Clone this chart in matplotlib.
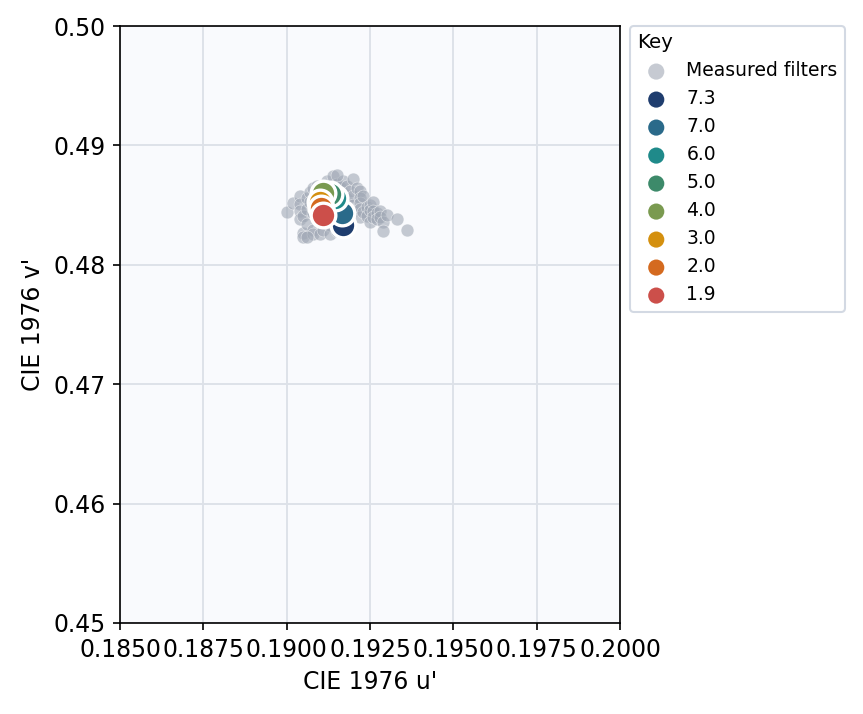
import matplotlib
matplotlib.use("Agg")
import matplotlib.pyplot as plt

# Measured filters (gray cloud)
measured_u = [
    0.1900, 0.1902, 0.1904, 0.1904, 0.1904, 0.1904, 0.1905, 0.1905, 0.1905, 0.1906,
    0.1906, 0.1906, 0.1907, 0.1907, 0.1908, 0.1908, 0.1908, 0.1908, 0.1909, 0.1910,
    0.1910, 0.1910, 0.1911, 0.1912, 0.1912, 0.1913, 0.1913, 0.1913, 0.1914, 0.1914,
    0.1915, 0.1915, 0.1915, 0.1916, 0.1917, 0.1917, 0.1918, 0.1918, 0.1918, 0.1918,
    0.1919, 0.1920, 0.1920, 0.1920, 0.1920, 0.1921, 0.1922, 0.1922, 0.1922, 0.1922,
    0.1922, 0.1923, 0.1923, 0.1924, 0.1924, 0.1925, 0.1925, 0.1925, 0.1926, 0.1926,
    0.1926, 0.1927, 0.1927, 0.1928, 0.1928, 0.1929, 0.1930, 0.1929, 0.1933, 0.1936,
    0.1915, 0.1906, 0.1908, 0.1911, 0.1914, 0.1916, 0.1912, 0.1909,
]
measured_v = [
    0.4844, 0.4852, 0.4858, 0.4851, 0.4845, 0.4838, 0.4841, 0.4827, 0.4823, 0.4856,
    0.4847, 0.4834, 0.4861, 0.4853, 0.4864, 0.4843, 0.4829, 0.4826, 0.4866, 0.4858,
    0.4836, 0.4826, 0.4829, 0.4866, 0.4870, 0.4862, 0.4833, 0.4826, 0.4874, 0.4865,
    0.4868, 0.4839, 0.4828, 0.4865, 0.4860, 0.4870, 0.4866, 0.4855, 0.4846, 0.4838,
    0.4862, 0.4872, 0.4858, 0.4850, 0.4845, 0.4864, 0.4862, 0.4856, 0.4852, 0.4847,
    0.4840, 0.4858, 0.4844, 0.4848, 0.4841, 0.4850, 0.4846, 0.4836, 0.4853, 0.4845,
    0.4840, 0.4843, 0.4838, 0.4845, 0.4840, 0.4836, 0.4842, 0.4828, 0.4838, 0.4829,
    0.4875, 0.4823, 0.4849, 0.4855, 0.4850, 0.4852, 0.4845, 0.4840,
]

# Highlighted series
labels = ["7.3", "7.0", "6.0", "5.0", "4.0", "3.0", "2.0", "1.9"]
series_u = [0.19170, 0.19165, 0.19145, 0.19130, 0.19110, 0.19100, 0.19103, 0.19110]
series_v = [0.48333, 0.48431, 0.48557, 0.48593, 0.48599, 0.48528, 0.48476, 0.48417]
colors = ["#1f3d6e", "#2a6a8a", "#1f8a8a", "#3d8a6a", "#7a9a50", "#d4900f", "#d46a1f", "#cc4f4a"]

x_ticks = [0.1850, 0.1875, 0.1900, 0.1925, 0.1950, 0.1975, 0.2000]
y_ticks = [0.45, 0.46, 0.47, 0.48, 0.49, 0.50]

plt.rcParams["font.size"] = 11.3
fig = plt.figure(figsize=(863 / 150, 714 / 150), dpi=150)
ax = fig.add_axes([120 / 863, 1 - 623 / 714, 500 / 863, 597 / 714])
ax.set_facecolor("#f9fafd")
ax.grid(True, color="#dde1e8", linewidth=0.9)
ax.set_axisbelow(True)

ax.scatter(measured_u, measured_v, s=38, color="#a0a8b5", alpha=0.6,
           edgecolors="white", linewidths=0.3, label="Measured filters", zorder=2)
for u, v, c, lab in zip(series_u, series_v, colors, labels):
    ax.scatter([u], [v], s=140, color=c, edgecolors="white", linewidths=1.6,
               label=lab, zorder=3)

ax.set_xlim(0.185, 0.200)
ax.set_ylim(0.45, 0.50)
ax.set_xticks(x_ticks)
ax.set_xticklabels([f"{t:.4f}" for t in x_ticks])
ax.set_yticks(y_ticks)
ax.set_yticklabels([f"{t:.2f}" for t in y_ticks])
ax.set_xlabel("CIE 1976 u'")
ax.set_ylabel("CIE 1976 v'")

leg = ax.legend(title="Key", loc="upper left", bbox_to_anchor=(1.02, 1.0),
                fontsize=9, title_fontsize=9.5, frameon=True, fancybox=True,
                borderaxespad=0, labelspacing=0.48, handletextpad=0.6)
leg._legend_box.align = "left"
leg.get_frame().set_edgecolor("#c8d0dc")
leg.get_frame().set_linewidth(1.0)
for h in leg.legend_handles:
    h.set_sizes([60])
    h.set_edgecolor("none")

fig.savefig("out.png", dpi=150)
